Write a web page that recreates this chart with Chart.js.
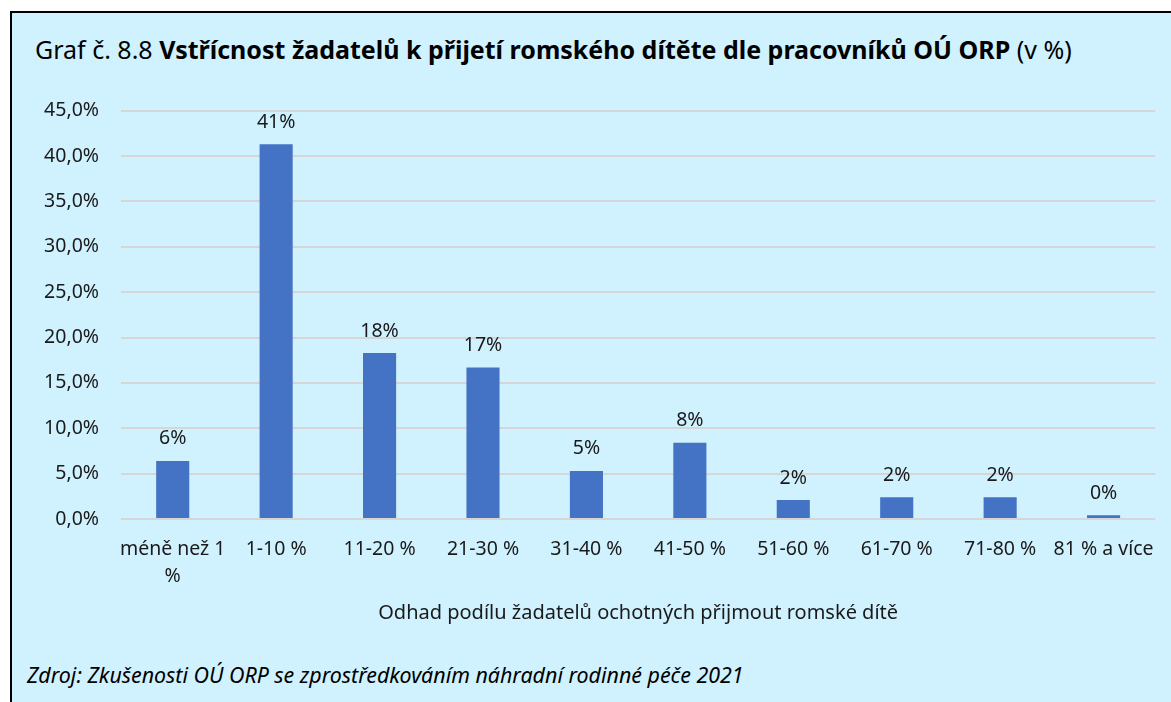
<!DOCTYPE html>
<html lang="cs">
<head>
<meta charset="utf-8">
<script src="https://cdn.jsdelivr.net/npm/chart.js@4"></script>
<style>
  html, body { margin: 0; padding: 0; background: #fff; overflow: hidden; }
  #frame {
    position: absolute; left: 10px; top: 11px; width: 1200px; height: 720px;
    background: #D0F1FE; border-top: 2px solid #000; border-left: 2px solid #000;
  }
  #title {
    position: absolute; left: 23px; top: 19px; white-space: nowrap;
    font-family: "Noto Sans", sans-serif; font-size: 25px; color: #000;
  }
  #source {
    position: absolute; left: 15px; top: 647px; white-space: nowrap;
    font-family: "Noto Sans", sans-serif; font-size: 21.4px; font-style: italic; color: #000;
  }
  #chartBox { position: absolute; left: 0px; top: 64px; width: 1159px; height: 548px; }
</style>
</head>
<body>
<div id="frame">
  <div id="title">Graf č. 8.8 <b>Vstřícnost žadatelů k přijetí romského dítěte dle pracovníků OÚ ORP</b> (v %)</div>
  <div id="chartBox"><canvas id="chart"></canvas></div>
  <div id="source">Zdroj: Zkušenosti OÚ ORP se zprostředkováním náhradní rodinné péče 2021</div>
</div>
<script>
const categories = [['méně než 1', '%'], '1-10 %', '11-20 %', '21-30 %', '31-40 %', '41-50 %', '51-60 %', '61-70 %', '71-80 %', '81 % a více'];
const shares = [6.4, 41.3, 18.3, 16.7, 5.3, 8.4, 2.1, 2.4, 2.4, 0.4];
const axisTitle = 'Odhad podílu žadatelů ochotných přijmout romské dítě';

const fontFamily = '"Noto Sans", sans-serif';

// values above the bars, rounded like in the source
const barLabels = {
    id: 'barLabels',
    afterDatasetsDraw(chart) {
        const ctx = chart.ctx;
        const meta = chart.getDatasetMeta(0);
        ctx.save();
        ctx.font = '19.5px ' + fontFamily;
        ctx.fillStyle = '#1a1a1a';
        ctx.textAlign = 'center';
        ctx.textBaseline = 'middle';
        meta.data.forEach((bar, i) => {
            ctx.fillText(Math.round(shares[i]) + '%', bar.x, bar.y - 22);
        });
        ctx.restore();
    }
};

new Chart(document.getElementById('chart'), {
    type: 'bar',
    data: {
        labels: categories,
        datasets: [{
            data: shares,
            backgroundColor: '#4472C4',
            categoryPercentage: 1,
            barPercentage: 0.32
        }]
    },
    options: {
        responsive: true,
        maintainAspectRatio: false,
        animation: false,
        layout: { padding: { top: 7, right: 9, left: 0, bottom: 0 } },
        plugins: { legend: { display: false }, tooltip: { enabled: false } },
        scales: {
            y: {
                min: 0,
                max: 45,
                ticks: {
                    stepSize: 5,
                    padding: 22,
                    color: '#1a1a1a',
                    font: { family: fontFamily, size: 19.5 },
                    callback: v => v.toFixed(1).replace('.', ',') + '%'
                },
                grid: { color: '#D6D6D6', lineWidth: 2, drawTicks: false },
                border: { display: false },
                afterFit(scale) { scale.width = 109; }
            },
            x: {
                ticks: {
                    padding: 17,
                    maxRotation: 0,
                    autoSkip: false,
                    color: '#1a1a1a',
                    font: { family: fontFamily, size: 19.5, lineHeight: '27px' }
                },
                grid: { display: false, drawTicks: false },
                border: { display: false },
                title: {
                    display: true,
                    text: axisTitle,
                    color: '#1a1a1a',
                    font: { family: fontFamily, size: 20, lineHeight: '24px' },
                    padding: { top: 0, bottom: 0 }
                },
                afterFit(scale) { scale.height -= 6; }
            }
        }
    },
    plugins: [barLabels]
});
</script>
</body>
</html>
